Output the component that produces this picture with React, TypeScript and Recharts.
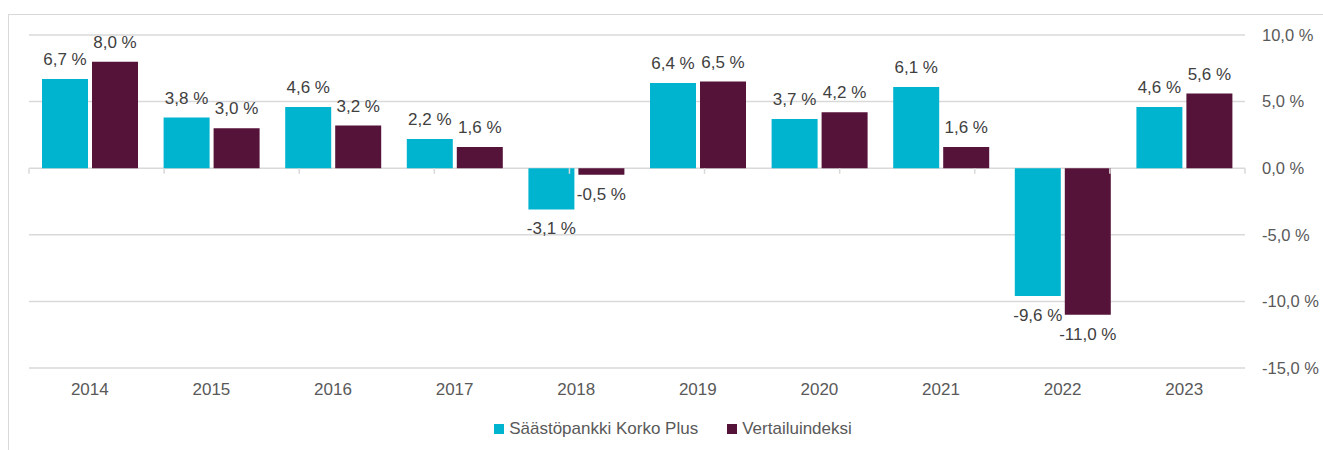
import React from "react";
import {
  BarChart,
  Bar,
  XAxis,
  YAxis,
  CartesianGrid,
  Legend,
  LabelList,
  ReferenceLine,
} from "recharts";

const years = ["2014", "2015", "2016", "2017", "2018", "2019", "2020", "2021", "2022", "2023"];
const fundValues = [6.7, 3.8, 4.6, 2.2, -3.1, 6.4, 3.7, 6.1, -9.6, 4.6];
const indexValues = [8.0, 3.0, 3.2, 1.6, -0.5, 6.5, 4.2, 1.6, -11.0, 5.6];
const yTicks = [-15, -10, -5, 0, 5, 10];
const seriesNames = ["Säästöpankki Korko Plus", "Vertailuindeksi"];
const seriesColors = ["#00B4CF", "#561339"];
const boundaries = [0, 1, 2, 3, 4, 5, 6, 7, 8, 9, 10];

const data = years.map((y, i) => ({ year: y, fund: fundValues[i], index: indexValues[i] }));

const FONT = "'Liberation Sans', Arial, sans-serif";
const fmt = (v: number) => v.toFixed(1).replace(".", ",") + " %";

const renderLabel = (props: any) => {
  const { x, y, width, height, value } = props;
  const top = Math.min(y, y + height);
  const bottom = Math.max(y, y + height);
  const cx = x + width / 2;
  const ty = value >= 0 ? top - 14 : bottom + 25;
  return (
    <text x={cx} y={ty} textAnchor="middle" fill="#404040" fontSize={17} fontFamily={FONT}>
      {fmt(value)}
    </text>
  );
};

const LegendContent = () => (
  <div
    style={{
      height: 32,
      display: "flex",
      justifyContent: "center",
      alignItems: "flex-start",
      fontFamily: FONT,
      fontSize: 17,
      color: "#595959",
      marginLeft: -6,
    }}
  >
    {seriesNames.map((n, i) => (
      <div
        key={n}
        style={{ display: "flex", alignItems: "center", marginRight: i === 0 ? 29 : 0, height: 22 }}
      >
        <span style={{ width: 10, height: 10, background: seriesColors[i], display: "inline-block", marginRight: 5 }} />
        <span>{n}</span>
      </div>
    ))}
  </div>
);

export default function App() {
  return (
    <div
      style={{
        position: "absolute",
        left: 8,
        top: 14,
        width: 1315,
        height: 436,
        borderTop: "1px solid #d9d9d9",
        borderLeft: "1px solid #d9d9d9",
        boxSizing: "border-box",
        background: "#fff",
      }}
    >
      <BarChart
        width={1314}
        height={435}
        data={data}
        margin={{ top: 20, right: 0, left: 20, bottom: 0 }}
        barSize={46}
        barGap={4}
      >
        <CartesianGrid horizontal vertical={false} stroke="#d9d9d9" strokeWidth={1.5} />
        <XAxis
          dataKey="year"
          axisLine={false}
          tickLine={false}
          tickSize={0}
          tickMargin={15}
          height={50}
          interval={0}
          tick={{ fill: "#595959", fontSize: 17, fontFamily: FONT }}
        />
        <XAxis xAxisId="grid" type="number" domain={[0, 10]} hide />
        <YAxis
          orientation="right"
          domain={[-15, 10]}
          ticks={yTicks}
          axisLine={false}
          tickLine={false}
          tickSize={0}
          tickMargin={17}
          width={78}
          tickFormatter={fmt}
          tick={{ fill: "#595959", fontSize: 16.5, fontFamily: FONT, textAnchor: "start" }}
        />
        {boundaries.map((b) => (
          <ReferenceLine
            key={b}
            xAxisId="grid"
            segment={[
              { x: b, y: 0 },
              { x: b, y: -0.42 },
            ]}
            stroke="#d9d9d9"
            strokeWidth={1.5}
          />
        ))}
        <Legend verticalAlign="bottom" content={<LegendContent />} />
        <Bar dataKey="fund" name={seriesNames[0]} fill={seriesColors[0]} isAnimationActive={false}>
          <LabelList dataKey="fund" content={renderLabel} />
        </Bar>
        <Bar dataKey="index" name={seriesNames[1]} fill={seriesColors[1]} isAnimationActive={false}>
          <LabelList dataKey="index" content={renderLabel} />
        </Bar>
      </BarChart>
    </div>
  );
}
